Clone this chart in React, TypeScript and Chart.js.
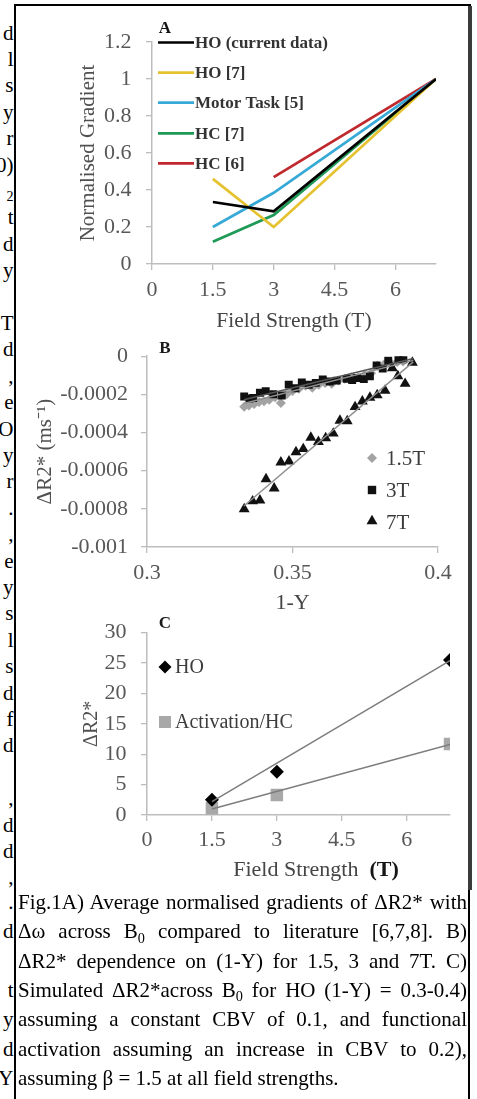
import React, { useEffect, useRef } from "react";
import { Chart, registerables } from "chart.js";

Chart.register(...registerables);

const SERIF = "'Liberation Serif', 'Times New Roman', serif";

// ===== Panel A: normalised gradient vs field strength =====
const fieldA = [1.5, 3, 7];
const hoCurrentA = [0.335, 0.285, 1.0];
const ho7A = [0.46, 0.2, 1.0];
const motorTask5A = [0.2, 0.385, 1.0];
const hc7A = [0.12, 0.265, 1.0];
const hc6A = [null, 0.47, 1.0];
const seriesLabelsA = ["HO (current data)", "HO [7]", "Motor Task [5]", "HC [7]", "HC [6]"];
const xTicksA = [0, 1.5, 3, 4.5, 6];
const xTickLabelsA = ["0", "1.5", "3", "4.5", "6"];
const yTicksA = [0, 0.2, 0.4, 0.6, 0.8, 1, 1.2];
const yTickLabelsA = ["0", "0.2", "0.4", "0.6", "0.8", "1", "1.2"];

// ===== Panel B: dR2* vs (1-Y) =====
const x15B = [0.3334, 0.335, 0.3368, 0.3385, 0.3402, 0.342, 0.344, 0.346, 0.348, 0.35, 0.3522, 0.3545, 0.3568, 0.359, 0.3612, 0.3635, 0.3658, 0.368, 0.3702, 0.3725, 0.3748, 0.377, 0.3792, 0.3815, 0.3838, 0.386, 0.388];
const y15B = [-0.000265, -0.000258, -0.00025, -0.00024, -0.000236, -0.000228, -0.000215, -0.000245, -0.0002, -0.000182, -0.00017, -0.000155, -0.000165, -0.00015, -0.00014, -0.000145, -0.000128, -0.000118, -0.00011, -0.000112, -0.000098, -0.00009, -0.00005, -0.000042, -0.000035, -0.00003, -0.000028];
const x3B = [0.3334, 0.3352, 0.3365, 0.3388, 0.3408, 0.3434, 0.3463, 0.3487, 0.351, 0.3532, 0.3556, 0.358, 0.3604, 0.3628, 0.3652, 0.3686, 0.3705, 0.3721, 0.3745, 0.3766, 0.3789, 0.381, 0.3829, 0.3864, 0.3881];
const y3B = [-0.000211, -0.000222, -0.000219, -0.000192, -0.000183, -0.000199, -0.000206, -0.000149, -0.000168, -0.000138, -0.00015, -0.00014, -0.000122, -0.000133, -0.000128, -0.000119, -0.000125, -0.000114, -0.00012, -0.000105, -0.000049, -0.000065, -0.000024, -0.000016, -0.000016];
const x7B = [0.3334, 0.3363, 0.3388, 0.3409, 0.3437, 0.346, 0.3488, 0.3512, 0.3537, 0.3563, 0.3589, 0.3614, 0.364, 0.3663, 0.3688, 0.3715, 0.374, 0.3766, 0.3791, 0.3818, 0.3843, 0.3862, 0.3887, 0.3912];
const y7B = [-0.000801, -0.00076, -0.000755, -0.000644, -0.000693, -0.000556, -0.000551, -0.000502, -0.000486, -0.000426, -0.000449, -0.000429, -0.000405, -0.000337, -0.00034, -0.000266, -0.000237, -0.000217, -0.000204, -0.00018, -0.000062, -0.000104, -0.000144, -0.000033];
const trendXB = [0.3333, 0.3915];
const trend15B = [-0.000248, -0.000022];
const trend3B = [-0.000228, -0.000012];
const trend7B = [-0.000785, -0.00003];
const seriesLabelsB = ["1.5T", "3T", "7T"];
const xTicksB = [0.3, 0.35, 0.4];
const xTickLabelsB = ["0.3", "0.35", "0.4"];
const yTicksB = [-0.001, -0.0008, -0.0006, -0.0004, -0.0002, 0];
const yTickLabelsB = ["-0.001", "-0.0008", "-0.0006", "-0.0004", "-0.0002", "0"];

// ===== Panel C: simulated dR2* vs field strength =====
const fieldC = [1.5, 3, 7];
const hoC = [2.5, 7.1, 25.5];
const activationC = [1.1, 3.3, 11.7];
const trendXC = [1.5, 7];
const hoTrendC = [2.2, 25.4];
const activationTrendC = [1.0, 11.6];
const seriesLabelsC = ["HO", "Activation/HC"];
const xTicksC = [0, 1.5, 3, 4.5, 6];
const xTickLabelsC = ["0", "1.5", "3", "4.5", "6"];
const yTicksC = [0, 5, 10, 15, 20, 25, 30];
const yTickLabelsC = ["0", "5", "10", "15", "20", "25", "30"];

// left margin text fragments (neighbouring column, clipped)
const marginLetters = ["d", "l", "s", "y", "r", "0)", "₂", "t", "d", "y", "", "T", "d", ",", "e", "O", "y", "r", ".", ",", "e", "y", "s", "l", "s", "d", "f", "d", "", ",", "d", "d", ",", ".", "d", "", "t", "y", "d", "Y", "d"];

const AXIS_GRAY = "#bdbdbd";
const TICK_COLOR = "#585858";

function linearAxis(o: any) {
  return {
    type: "linear",
    min: o.min,
    max: o.max,
    afterBuildTicks: (axis: any) => {
      axis.ticks = o.values.map((v: number) => ({ value: v }));
    },
    afterFit: o.fit,
    ticks: {
      padding: o.pad,
      color: TICK_COLOR,
      font: { family: SERIF, size: o.tickSize || 22 },
      maxRotation: 0,
      autoSkip: false,
      callback: (v: number) => {
        const i = o.values.findIndex((t: number) => Math.abs(t - v) < 1e-12);
        return i >= 0 ? o.labels[i] : "";
      },
    },
    grid: { drawOnChartArea: false, drawTicks: true, tickLength: 6, color: AXIS_GRAY, lineWidth: 1.3 },
    border: { display: true, color: AXIS_GRAY, width: 1.5 },
    title: o.title || { display: false },
  };
}

function drawMarker(ctx: any, shape: string, x: number, y: number, r: number, fill: string) {
  ctx.fillStyle = fill;
  ctx.beginPath();
  if (shape === "diamond") {
    ctx.moveTo(x, y - r);
    ctx.lineTo(x + r, y);
    ctx.lineTo(x, y + r);
    ctx.lineTo(x - r, y);
  } else if (shape === "square") {
    ctx.rect(x - r, y - r, 2 * r, 2 * r);
  } else {
    ctx.moveTo(x, y - r);
    ctx.lineTo(x + r * 0.866, y + r * 0.5);
    ctx.lineTo(x - r * 0.866, y + r * 0.5);
  }
  ctx.closePath();
  ctx.fill();
}

function overlay(id: string, draw: (ctx: any, chart: any) => void) {
  return {
    id,
    afterDraw(chart: any) {
      const ctx = chart.ctx;
      ctx.save();
      draw(ctx, chart);
      ctx.restore();
    },
  };
}

const base = {
  responsive: false,
  animation: false,
  devicePixelRatio: 1,
  events: [],
};

export default function App() {
  const refA = useRef<HTMLCanvasElement>(null);
  const refB = useRef<HTMLCanvasElement>(null);
  const refC = useRef<HTMLCanvasElement>(null);

  useEffect(() => {
    // ---------- A ----------
    const HA = 340;
    const colorsA = ["#000000", "#E5C22F", "#37A9D7", "#1E9A56", "#C0282E"];
    const seriesA = [hoCurrentA, ho7A, motorTask5A, hc7A, hc6A];
    const chartA = new Chart(refA.current as any, {
      type: "line",
      data: {
        datasets: seriesA.map((s, i) => ({
          label: seriesLabelsA[i],
          data: fieldA.map((x, j) => ({ x, y: s[j] })),
          borderColor: colorsA[i],
          backgroundColor: colorsA[i],
          borderWidth: 2.7,
          pointRadius: 0,
          fill: false,
          tension: 0,
          spanGaps: false,
        })),
      },
      options: {
        ...base,
        layout: { padding: { left: 0, right: 477 - 436, top: 42, bottom: 0 } },
        plugins: { legend: { display: false }, tooltip: { enabled: false } },
        scales: {
          x: linearAxis({
            min: 0, max: 7, values: xTicksA, labels: xTickLabelsA, pad: 7,
            fit: (s: any) => { s.height = HA - 264; },
            title: { display: true, text: "Field Strength (T)", color: "#454545", font: { family: SERIF, size: 21.5 }, padding: { top: 0, bottom: 6 } },
          }),
          y: linearAxis({
            min: 0, max: 1.2, values: yTicksA, labels: yTickLabelsA, pad: 14.5,
            fit: (s: any) => { s.width = 152; },
            title: { display: true, text: "Normalised Gradient", color: "#505050", font: { family: SERIF, size: 21 }, padding: { top: 75.4, bottom: 0 } },
          }),
        },
      } as any,
      plugins: [
        overlay("overlayA", (ctx: any) => {
          ctx.fillStyle = "#111";
          ctx.font = `bold 17px ${SERIF}`;
          ctx.textAlign = "center";
          ctx.textBaseline = "middle";
          ctx.fillText("A", 165, 29);
          const ys = [42.5, 72.7, 102.7, 133.3, 163.3];
          ctx.textAlign = "left";
          ctx.font = `bold 17px ${SERIF}`;
          seriesLabelsA.forEach((lab, i) => {
            ctx.strokeStyle = colorsA[i];
            ctx.lineWidth = 2.7;
            ctx.beginPath();
            ctx.moveTo(158, ys[i]);
            ctx.lineTo(194, ys[i]);
            ctx.stroke();
            ctx.fillStyle = "#333";
            ctx.fillText(lab, 195, ys[i] + 1);
          });
        }),
      ],
    } as any);

    // ---------- B ----------
    const TB = 330;
    const HB = 290;
    const pts = (xs: number[], ys: number[]) => xs.map((x, i) => ({ x, y: ys[i] }));
    const chartB = new Chart(refB.current as any, {
      type: "scatter",
      data: {
        datasets: [
          { label: "trend 1.5T", data: pts(trendXB, trend15B), showLine: true, pointRadius: 0, borderColor: "#8f8f8f", borderWidth: 1.5, order: 0 },
          { label: "trend 3T", data: pts(trendXB, trend3B), showLine: true, pointRadius: 0, borderColor: "#555", borderWidth: 1.5, order: 0 },
          { label: "trend 7T", data: pts(trendXB, trend7B), showLine: true, pointRadius: 0, borderColor: "#8f8f8f", borderWidth: 1.5, order: 0 },
          { label: seriesLabelsB[0], data: pts(x15B, y15B), pointStyle: "rectRot", pointRadius: 5, backgroundColor: "#a3a3a3", borderWidth: 0, order: 3 },
          { label: seriesLabelsB[1], data: pts(x3B, y3B), pointStyle: "rect", pointRadius: 5.6, backgroundColor: "#111", borderWidth: 0, order: 2 },
          { label: seriesLabelsB[2], data: pts(x7B, y7B), pointStyle: "triangle", pointRadius: 6.3, backgroundColor: "#111", borderWidth: 0, order: 1 },
        ],
      },
      options: {
        ...base,
        layout: { padding: { left: 0, right: 477 - 438, top: 342 - TB, bottom: 0 } },
        plugins: { legend: { display: false }, tooltip: { enabled: false } },
        scales: {
          x: linearAxis({
            min: 0.3, max: 0.4, values: xTicksB, labels: xTickLabelsB, pad: 7,
            fit: (s: any) => { s.height = HB - (547 - TB); },
            title: { display: true, text: "1-Y", color: "#454545", font: { family: SERIF, size: 22 }, padding: { top: 0, bottom: 4 } },
          }),
          y: linearAxis({
            min: -0.001, max: 0, values: yTicksB, labels: yTickLabelsB, pad: 13,
            fit: (s: any) => { s.width = 147; },
            title: { display: true, text: "ΔR2* (ms⁻¹)", color: "#505050", font: { family: SERIF, size: 21 }, padding: { top: 32.4, bottom: 0 } },
          }),
        },
      } as any,
      plugins: [
        overlay("overlayB", (ctx: any) => {
          ctx.fillStyle = "#1a1a1a";
          ctx.font = `bold 17px ${SERIF}`;
          ctx.textAlign = "center";
          ctx.textBaseline = "middle";
          ctx.fillText("B", 165, 349 - TB);
          const ly = [458 - TB, 490 - TB, 522 - TB];
          drawMarker(ctx, "diamond", 372, ly[0], 5, "#a3a3a3");
          drawMarker(ctx, "square", 372, ly[1], 4.2, "#111");
          drawMarker(ctx, "triangle", 372, ly[2] - 1, 6.3, "#111");
          ctx.textAlign = "left";
          ctx.fillStyle = "#3c3c3c";
          ctx.font = `21px ${SERIF}`;
          seriesLabelsB.forEach((lab, i) => ctx.fillText(lab, 386, ly[i] + 1));
        }),
      ],
    } as any);

    // ---------- C ----------
    const TC = 605;
    const HC = 295;
    const chartC = new Chart(refC.current as any, {
      type: "scatter",
      data: {
        datasets: [
          { label: seriesLabelsC[0], data: pts(fieldC, hoC), pointStyle: "rectRot", pointRadius: 7, backgroundColor: "#000", borderWidth: 0, order: 1 },
          { label: seriesLabelsC[1], data: pts(fieldC, activationC), pointStyle: "rect", pointRadius: 8.8, backgroundColor: "#a8a8a8", borderWidth: 0, order: 2 },
          { label: "trend HO", data: pts(trendXC, hoTrendC), showLine: true, pointRadius: 0, borderColor: "#7d7d7d", borderWidth: 1.5, order: 0 },
          { label: "trend Activation/HC", data: pts(trendXC, activationTrendC), showLine: true, pointRadius: 0, borderColor: "#7d7d7d", borderWidth: 1.5, order: 0 },
        ],
      },
      options: {
        ...base,
        layout: { padding: { left: 0, right: 477 - 450, top: 618 - TC, bottom: 0 } },
        plugins: { legend: { display: false }, tooltip: { enabled: false } },
        scales: {
          x: linearAxis({
            min: 0, max: 7, values: xTicksC, labels: xTickLabelsC, pad: 6,
            fit: (s: any) => { s.height = HC - (815 - TC); },
          }),
          y: linearAxis({
            min: 0, max: 30, values: yTicksC, labels: yTickLabelsC, pad: 14.5,
            fit: (s: any) => { s.width = 147; },
            title: { display: true, text: "ΔR2*", color: "#505050", font: { family: SERIF, size: 20 }, padding: { top: 80, bottom: 0 } },
          }),
        },
      } as any,
      plugins: [
        overlay("overlayC", (ctx: any) => {
          ctx.fillStyle = "#1a1a1a";
          ctx.font = `bold 17px ${SERIF}`;
          ctx.textAlign = "center";
          ctx.textBaseline = "middle";
          ctx.fillText("C", 165, 624 - TC);
          const ly = [667 - TC, 722 - TC];
          drawMarker(ctx, "diamond", 165, ly[0], 6.5, "#000");
          drawMarker(ctx, "square", 165, ly[1], 6, "#a8a8a8");
          ctx.textAlign = "left";
          ctx.fillStyle = "#3c3c3c";
          ctx.font = `20px ${SERIF}`;
          seriesLabelsC.forEach((lab, i) => ctx.fillText(lab, 175, ly[i] + 1));
          // x title with bold (T)
          const t1 = "Field Strength";
          const t2 = "(T)";
          ctx.font = `22px ${SERIF}`;
          const w1 = ctx.measureText(t1).width;
          ctx.font = `bold 22px ${SERIF}`;
          const w2 = ctx.measureText(t2).width;
          const gap = 11;
          const start = 316 - (w1 + gap + w2) / 2;
          const ty = 870 - TC;
          ctx.font = `22px ${SERIF}`;
          ctx.fillStyle = "#454545";
          ctx.fillText(t1, start, ty);
          ctx.font = `bold 22px ${SERIF}`;
          ctx.fillStyle = "#151515";
          ctx.fillText(t2, start + w1 + gap, ty);
        }),
      ],
    } as any);

    return () => {
      chartA.destroy();
      chartB.destroy();
      chartC.destroy();
    };
  }, []);

  const capFont: any = { fontFamily: SERIF, fontSize: 21, color: "#000", lineHeight: "29px" };
  const sub = (t: string) => (
    <span style={{ fontSize: "0.68em", position: "relative", top: "0.3em" }}>{t}</span>
  );
  const captionLines: any[] = [
    <>Fig.1A) Average normalised gradients of ΔR2* with</>,
    <>Δω across B{sub("0")} compared to literature [6,7,8]. B)</>,
    <>ΔR2* dependence on (1-Y) for 1.5, 3 and 7T. C)</>,
    <>Simulated ΔR2*across B{sub("0")} for HO (1-Y) = 0.3-0.4)</>,
    <>assuming a constant CBV of 0.1, and functional</>,
    <>activation assuming an increase in CBV to 0.2),</>,
    <>assuming β = 1.5 at all field strengths.</>,
  ];

  const marginY = (k: number) => (k <= 32 ? 33 + 26.4 * k : 902.5 + 29.3 * (k - 33));

  return (
    <div
      style={{
        position: "absolute",
        left: 0,
        top: 0,
        width: 477,
        height: 1099,
        overflow: "hidden",
        background: "#fff",
      }}
    >
      {marginLetters.map((ch, k) =>
        ch ? (
          <div
            key={"m" + k}
            style={{
              ...capFont,
              position: "absolute",
              left: -40,
              width: 53.5,
              textAlign: "right",
              top: marginY(k) - 14.5,
              height: 29,
              whiteSpace: "nowrap",
            }}
          >
            {ch === "₂" ? <span style={{ fontSize: 14, position: "relative", top: 3 }}>2</span> : ch}
          </div>
        ) : null
      )}

      {/* frame */}
      <div style={{ position: "absolute", left: 14, top: 4, width: 457, height: 2, background: "#000" }} />
      <div style={{ position: "absolute", left: 14, top: 4, width: 2, height: 1095, background: "#000" }} />
      <div style={{ position: "absolute", left: 468, top: 6, width: 4, height: 884, background: "#3a3a3a" }} />
      <div style={{ position: "absolute", left: 468, top: 890, width: 1.5, height: 209, background: "#000" }} />

      <canvas ref={refA} width={477} height={340} style={{ position: "absolute", left: 0, top: 0 }} />
      <canvas ref={refB} width={477} height={290} style={{ position: "absolute", left: 0, top: 330 }} />
      <canvas ref={refC} width={477} height={295} style={{ position: "absolute", left: 0, top: 605 }} />

      {captionLines.map((line, i) => (
        <div
          key={"c" + i}
          style={{
            ...capFont,
            position: "absolute",
            left: 18,
            width: 449,
            top: 888 + 29.3 * i,
            height: 29,
            whiteSpace: "nowrap",
            textAlign: i < 6 ? "justify" : "left",
            textAlignLast: i < 6 ? "justify" : "left",
          }}
        >
          {line}
        </div>
      ))}
    </div>
  );
}
